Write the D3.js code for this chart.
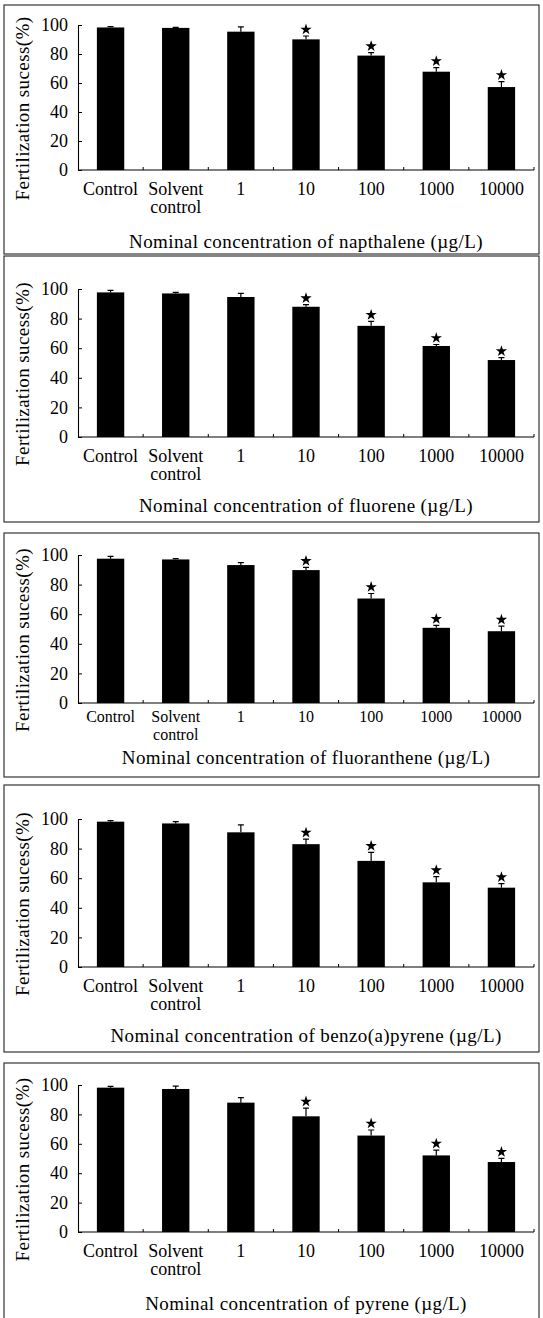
<!DOCTYPE html>
<html>
<head>
<meta charset="utf-8">
<script src="https://cdn.jsdelivr.net/npm/d3@7"></script>
<style>
  body { margin: 0; background: #fff; }
</style>
</head>
<body>
<div id="chart"></div>
<script>
// Categories on the x axis (second line of a label after "\n")
const categories = ["Control", "Solvent\ncontrol", "1", "10", "100", "1000", "10000"];
const compounds = ["napthalene", "fluorene", "fluoranthene", "benzo(a)pyrene", "pyrene"];

// Mean fertilization success (%) and upper error
const napthaleneMean = [98.3, 98.0, 95.4, 90.1, 78.9, 67.8, 57.2];
const napthaleneErr = [0.6, 0.3, 3.3, 2.3, 2.0, 2.8, 3.8];
const fluoreneMean = [97.7, 97.0, 94.6, 88.0, 75.1, 61.5, 52.0];
const fluoreneErr = [1.4, 0.7, 2.5, 1.4, 3.0, 1.0, 1.6];
const fluorantheneMean = [97.5, 97.0, 93.2, 89.8, 70.6, 50.8, 48.5];
const fluorantheneErr = [1.6, 0.5, 1.6, 1.8, 3.4, 1.6, 3.4];
const benzopyreneMean = [98.2, 97.0, 91.0, 83.0, 71.7, 57.2, 53.6];
const benzopyreneErr = [0.7, 1.2, 5.0, 3.4, 5.7, 3.8, 2.7];
const pyreneMean = [98.2, 97.3, 88.0, 78.7, 65.6, 52.1, 47.6];
const pyreneErr = [0.9, 2.0, 3.4, 5.6, 3.8, 3.6, 2.5];
// significant difference from control (*)
const significant = [false, false, false, true, true, true, true];
const yTicks = [0, 20, 40, 60, 80, 100];

const means = [napthaleneMean, fluoreneMean, fluorantheneMean, benzopyreneMean, pyreneMean];
const errs = [napthaleneErr, fluoreneErr, fluorantheneErr, benzopyreneErr, pyreneErr];

// Layout of the five stacked panels
const W = 543, H = 1318;
const FONT = "'Liberation Serif', 'Times New Roman', serif";
const boxLeft = 4, boxRight = 539;
const boxTop = [5, 256, 533, 785, 1063];
const boxBottom = [254, 522, 777, 1052, 1325];
const axisTop = [25, 289, 555, 819, 1085];
const axisBase = [170, 437, 703, 967, 1232];
const titleY = [248, 512, 764, 1042, 1310];
const labelDy = [25, 25, 19, 25, 25];
const labelSize = [18, 18, 16, 18, 18]; // third panel is squeezed in the original
const lineGap = [18, 18, 18, 18, 18];
const plotLeft = 78, plotRight = 534;

const svg = d3.select("#chart").append("svg").attr("width", W).attr("height", H);

const x = d3.scaleBand().domain(categories).range([plotLeft, plotRight]).paddingInner(0.58).paddingOuter(0.29);

compounds.forEach((name, p) => {
  const g = svg.append("g");
  const y = d3.scaleLinear().domain([0, 100]).range([axisBase[p], axisTop[p]]);
  const rows = categories.map((c, i) => ({ cat: c, mean: means[p][i], err: errs[p][i], sig: significant[i] }));

  // panel frame
  g.append("rect")
    .attr("x", boxLeft)
    .attr("y", boxTop[p])
    .attr("width", boxRight - boxLeft)
    .attr("height", boxBottom[p] - boxTop[p])
    .attr("fill", "none")
    .attr("stroke", "#222")
    .attr("stroke-width", 1.1);

  // error bars (upper half only, lower half hidden by the bar)
  g.selectAll(".err")
    .data(rows)
    .join("path")
    .attr("class", "err")
    .attr("fill", "none")
    .attr("stroke", "#000")
    .attr("stroke-width", 1.2)
    .attr("d", (d) => {
      const cx = x(d.cat) + x.bandwidth() / 2;
      const top = y(d.mean + d.err);
      return `M${cx},${y(d.mean)}V${top}M${cx - 3},${top}H${cx + 3}`;
    });

  // bars
  g.selectAll(".bar")
    .data(rows)
    .join("rect")
    .attr("class", "bar")
    .attr("x", (d) => x(d.cat))
    .attr("y", (d) => y(d.mean))
    .attr("width", x.bandwidth())
    .attr("height", (d) => y(0) - y(d.mean))
    .attr("fill", "#000");

  // stars
  g.selectAll(".star")
    .data(rows.filter((d) => d.sig))
    .join("path")
    .attr("class", "star")
    .attr("d", d3.symbol(d3.symbolStar).size(40))
    .attr("transform", (d) => `translate(${x(d.cat) + x.bandwidth() / 2},${y(d.mean + d.err) - 6.5})`)
    .attr("fill", "#000");

  // y axis
  const yAxis = g.append("g")
    .attr("transform", `translate(${plotLeft},0)`)
    .call(d3.axisLeft(y).tickValues(yTicks).tickSizeInner(-4).tickSizeOuter(0).tickPadding(10));
  yAxis.attr("font-family", FONT).attr("font-size", 18);
  yAxis.select(".domain").attr("stroke", "#000").attr("stroke-width", 1.1);
  yAxis.selectAll(".tick line").attr("stroke", "#000");
  yAxis.selectAll("text").attr("fill", "#000");

  // x axis: baseline plus small upward ticks at band boundaries
  g.append("line")
    .attr("x1", plotLeft)
    .attr("x2", plotRight)
    .attr("y1", y(0))
    .attr("y2", y(0))
    .attr("stroke", "#000")
    .attr("stroke-width", 1.1);
  g.selectAll(".xtick")
    .data(categories)
    .join("line")
    .attr("class", "xtick")
    .attr("x1", (d) => x(d) + x.bandwidth() / 2 + x.step() / 2)
    .attr("x2", (d) => x(d) + x.bandwidth() / 2 + x.step() / 2)
    .attr("y1", y(0))
    .attr("y2", y(0) - 3)
    .attr("stroke", "#000");

  // category labels
  const lbl = g.selectAll(".xlabel")
    .data(categories)
    .join("text")
    .attr("class", "xlabel")
    .attr("font-family", FONT)
    .attr("font-size", labelSize[p])
    .attr("text-anchor", "middle")
    .attr("transform", (d) => `translate(${x(d) + x.bandwidth() / 2},${y(0) + labelDy[p]})`);
  lbl.selectAll("tspan")
    .data((d) => d.split("\n"))
    .join("tspan")
    .attr("x", 0)
    .attr("y", (d, i) => i * lineGap[p])
    .text((d) => d);

  // y axis title
  g.append("text")
    .attr("transform", `translate(29,${(axisTop[p] + axisBase[p]) / 2 + 11}) rotate(-90)`)
    .attr("text-anchor", "middle")
    .attr("font-family", FONT)
    .attr("font-size", 19)
    .attr("letter-spacing", 0.4)
    .text("Fertilization sucess(%)");

  // x axis title
  g.append("text")
    .attr("x", (plotLeft + plotRight) / 2)
    .attr("y", titleY[p])
    .attr("text-anchor", "middle")
    .attr("font-family", FONT)
    .attr("font-size", 19)
    .attr("letter-spacing", 0.4)
    .text(`Nominal concentration of ${name} (\u00b5g/L)`);
});
</script>
</body>
</html>
